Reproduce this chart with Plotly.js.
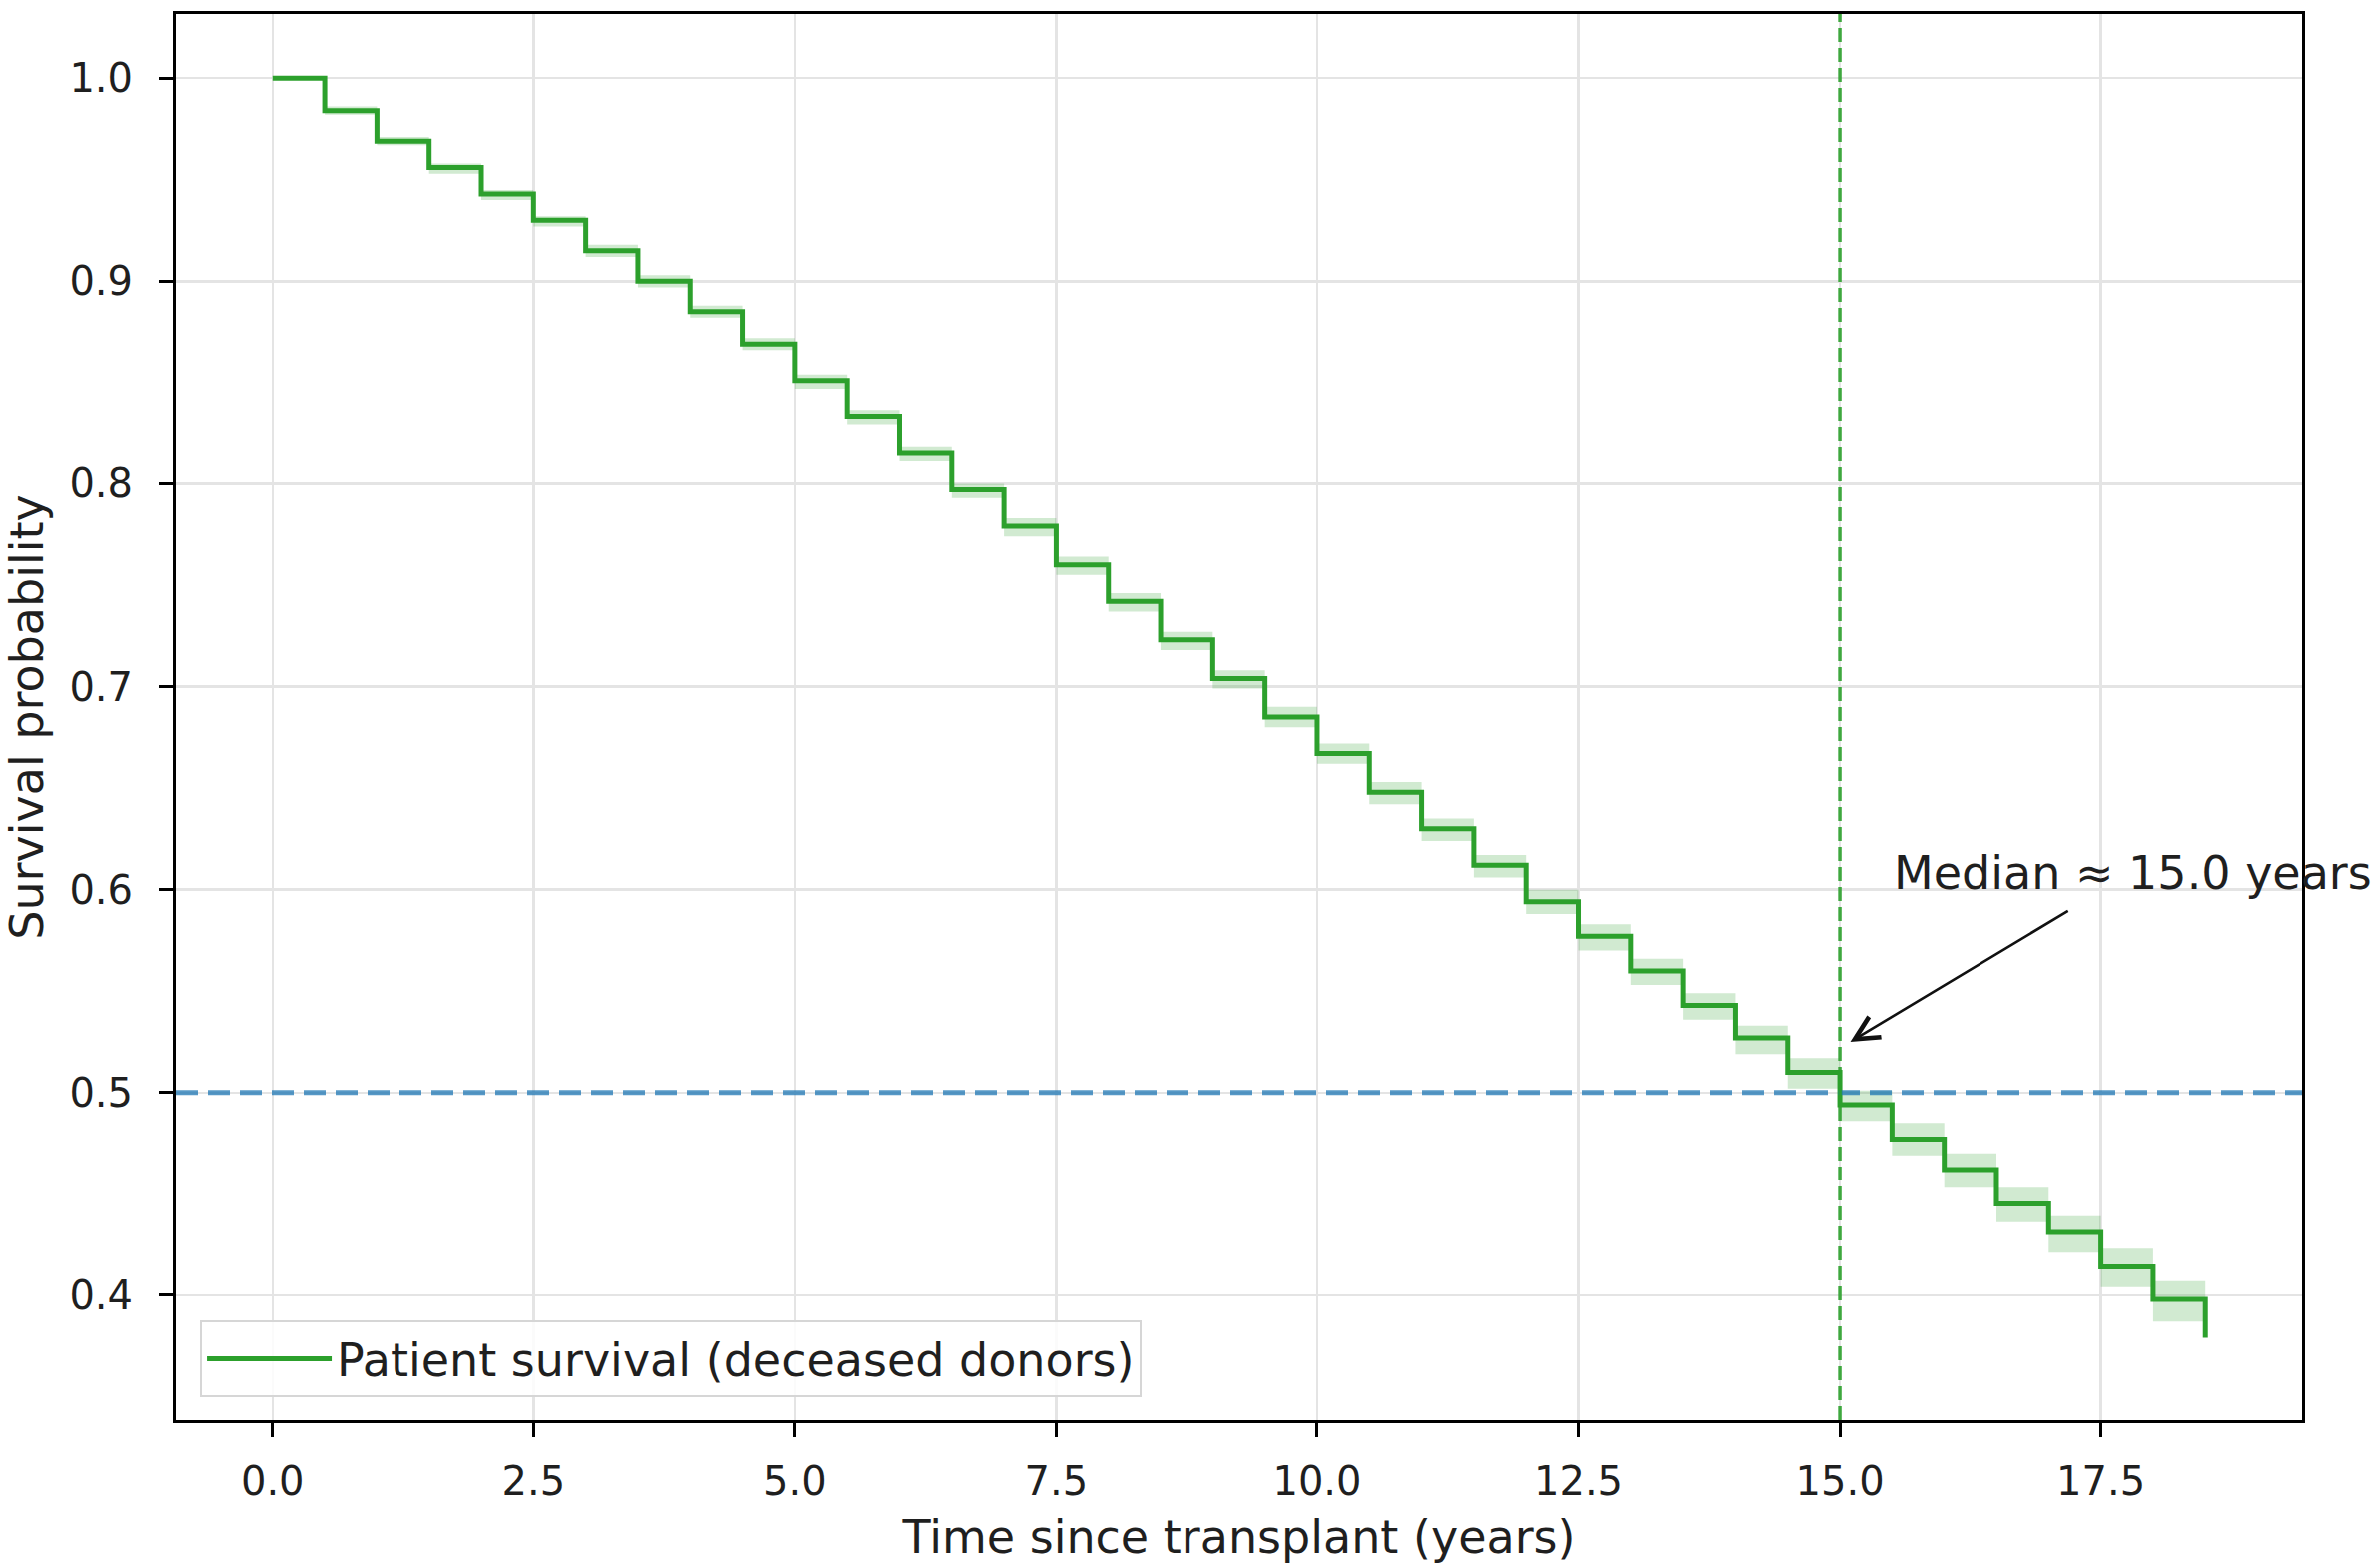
<!DOCTYPE html>
<html>
<head>
<meta charset="utf-8">
<script src="https://cdn.plot.ly/plotly-3.0.1.min.js"></script>
<style>
  html, body { margin: 0; padding: 0; background: #ffffff; }
  #chart { width: 2379px; height: 1570px; }
</style>
</head>
<body>
<div id="chart"></div>
<script>
// ---- Data ----
const timeYears = [0.0, 0.5, 1.0, 1.5, 2.0, 2.5, 3.0, 3.5, 4.0, 4.5,
                   5.0, 5.5, 6.0, 6.5, 7.0, 7.5, 8.0, 8.5, 9.0, 9.5,
                   10.0, 10.5, 11.0, 11.5, 12.0, 12.5, 13.0, 13.5, 14.0, 14.5,
                   15.0, 15.5, 16.0, 16.5, 17.0, 17.5, 18.0, 18.5];
const survival = [1.000, 0.984, 0.969, 0.956, 0.943, 0.930, 0.915, 0.900, 0.885, 0.869,
                  0.851, 0.833, 0.815, 0.797, 0.779, 0.760, 0.742, 0.723, 0.704, 0.685,
                  0.667, 0.648, 0.630, 0.612, 0.594, 0.577, 0.560, 0.543, 0.527, 0.510,
                  0.494, 0.477, 0.462, 0.445, 0.431, 0.414, 0.398, 0.379];
const ciLower  = [1.000, 0.982, 0.967, 0.953, 0.940, 0.927, 0.912, 0.897, 0.882, 0.866,
                  0.847, 0.829, 0.811, 0.793, 0.774, 0.755, 0.737, 0.718, 0.699, 0.680,
                  0.662, 0.642, 0.624, 0.606, 0.588, 0.570, 0.553, 0.536, 0.519, 0.502,
                  0.486, 0.469, 0.453, 0.436, 0.421, 0.404, 0.387, 0.369];
const ciUpper  = [1.000, 0.986, 0.971, 0.958, 0.945, 0.932, 0.918, 0.903, 0.888, 0.872,
                  0.854, 0.836, 0.818, 0.800, 0.783, 0.764, 0.746, 0.727, 0.708, 0.690,
                  0.672, 0.653, 0.635, 0.617, 0.600, 0.583, 0.566, 0.549, 0.533, 0.517,
                  0.501, 0.485, 0.470, 0.453, 0.439, 0.423, 0.407, 0.389];
const xTickVals = [0, 2.5, 5, 7.5, 10, 12.5, 15, 17.5];
const xTickText = ['0.0', '2.5', '5.0', '7.5', '10.0', '12.5', '15.0', '17.5'];
const yTickVals = [0.4, 0.5, 0.6, 0.7, 0.8, 0.9, 1.0];
const yTickText = ['0.4', '0.5', '0.6', '0.7', '0.8', '0.9', '1.0'];
const medianTime = 15.0;
const halfSurvival = 0.5;
const seriesName = 'Patient survival (deceased donors)';
const medianLabel = 'Median \u2248 15.0 years';
const labelPos = [15.5, 0.6];
const arrowHead = [15.1, 0.525];
const arrowTail = [17.2, 0.59];
const xTitle = 'Time since transplant (years)';
const yTitle = 'Survival probability';

// ---- Styling ----
const GREEN = '#2ca02c';
const FONT = 'DejaVu Sans, Liberation Sans, sans-serif';
const TEXT = '#1f1f1f';

const traces = [
  {
    x: timeYears, y: ciLower, type: 'scatter', mode: 'lines',
    line: { shape: 'hv', width: 0, color: 'rgba(44,160,44,0)' },
    showlegend: false, hoverinfo: 'skip'
  },
  {
    x: timeYears, y: ciUpper, type: 'scatter', mode: 'lines',
    line: { shape: 'hv', width: 0, color: 'rgba(44,160,44,0)' },
    fill: 'tonexty', fillcolor: 'rgba(44,160,44,0.22)',
    showlegend: false, hoverinfo: 'skip'
  },
  {
    x: timeYears, y: survival, type: 'scatter', mode: 'lines',
    name: seriesName,
    line: { shape: 'hv', width: 5, color: GREEN }
  }
];

const axisCommon = {
  showline: true, linecolor: '#000', linewidth: 3, mirror: true,
  ticks: 'outside', ticklen: 14, tickwidth: 3, tickcolor: '#000',
  showgrid: true, gridcolor: '#e4e4e4', gridwidth: 2.5,
  zeroline: false, automargin: false,
  tickfont: { family: FONT, size: 40, color: TEXT }
};

const layout = {
  width: 2379, height: 1570,
  paper_bgcolor: '#ffffff', plot_bgcolor: '#ffffff',
  margin: { l: 176, r: 74, t: 14, b: 148, pad: 0 },
  font: { family: FONT, color: TEXT },
  xaxis: Object.assign({}, axisCommon, {
    range: [-0.925, 19.425],
    tickmode: 'array', tickvals: xTickVals, ticktext: xTickText,
    ticklabelstandoff: 10,
    title: { text: xTitle, font: { family: FONT, size: 46, color: TEXT }, standoff: 18 }
  }),
  yaxis: Object.assign({}, axisCommon, {
    range: [0.3384, 1.0316],
    tickmode: 'array', tickvals: yTickVals, ticktext: yTickText,
    ticklabelstandoff: 18,
    title: { text: yTitle, font: { family: FONT, size: 46, color: TEXT }, standoff: 22 }
  }),
  showlegend: true,
  legend: {
    x: 0.0113, y: 0.0163, xanchor: 'left', yanchor: 'bottom',
    bgcolor: 'rgba(255,255,255,0.85)', bordercolor: '#d6d6d6', borderwidth: 2,
    itemwidth: 125,
    font: { family: FONT, size: 46, color: TEXT }
  },
  shapes: [
    {
      type: 'line', xref: 'paper', yref: 'y', x0: 0, x1: 1, y0: halfSurvival, y1: halfSurvival,
      line: { color: 'rgba(31,119,180,0.75)', width: 5, dash: '22px,10px' }, layer: 'above'
    },
    {
      type: 'line', xref: 'x', yref: 'paper', x0: medianTime, x1: medianTime, y0: 0, y1: 1,
      line: { color: 'rgba(44,160,44,0.9)', width: 3.5, dash: '14px,6px' }, layer: 'above'
    }
  ],
  annotations: [
    {
      x: labelPos[0], y: labelPos[1], xref: 'x', yref: 'y',
      text: medianLabel, showarrow: false, xanchor: 'left', yanchor: 'bottom', yshift: -12,
      font: { family: FONT, size: 46, color: TEXT }
    },
    {
      x: arrowHead[0], y: arrowHead[1], xref: 'x', yref: 'y',
      ax: arrowTail[0], ay: arrowTail[1], axref: 'x', ayref: 'y',
      text: '', showarrow: true, arrowhead: 5, arrowsize: 1.8, arrowwidth: 2.6,
      arrowcolor: '#111', standoff: 0
    }
  ]
};

Plotly.newPlot('chart', traces, layout, { staticPlot: true, displayModeBar: false });
</script>
</body>
</html>
